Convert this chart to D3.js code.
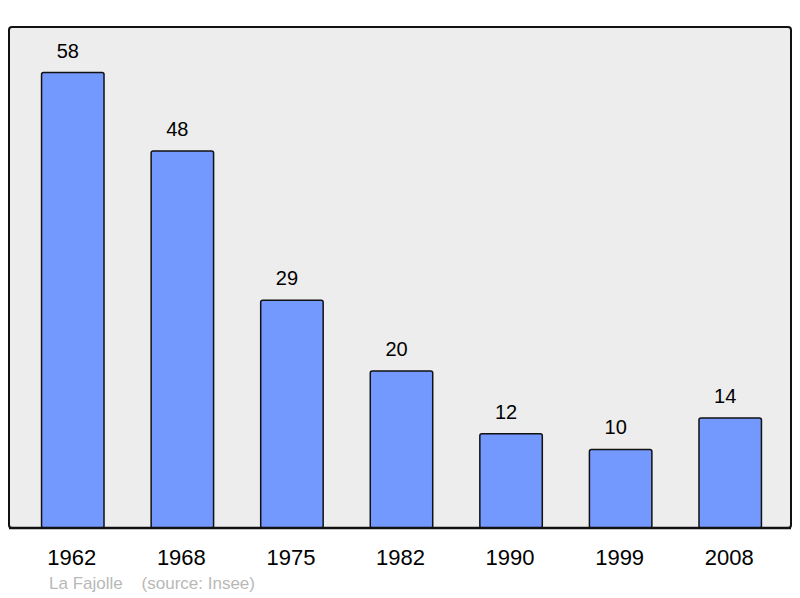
<!DOCTYPE html>
<html>
<head>
<meta charset="utf-8">
<script src="https://cdn.jsdelivr.net/npm/d3@7"></script>
<style>
  body { margin: 0; background: #fff; }
  text { font-family: "Liberation Sans", Arial, sans-serif; }
</style>
</head>
<body>
<div id="chart-area"></div>
<script>
const years = ["1962", "1968", "1975", "1982", "1990", "1999", "2008"];
const population = [58, 48, 29, 20, 12, 10, 14];

const width = 800, height = 598;
const svg = d3.select("#chart-area")
    .append("svg")
    .attr("width", width)
    .attr("height", height);

// plot frame
svg.append("rect")
    .attr("x", 9).attr("y", 27)
    .attr("width", 782).attr("height", 501)
    .attr("rx", 3)
    .attr("fill", "#ededed")
    .attr("stroke", "#111")
    .attr("stroke-width", 2);

const x = d3.scaleBand()
    .domain(years)
    .range([18, 785])
    .paddingInner(0.43)
    .paddingOuter(0.215);

const y = d3.scaleLinear()
    .domain([0, 63.8])
    .range([528, 27]);

svg.selectAll("rect.bar")
    .data(population)
    .join("rect")
    .attr("class", "bar")
    .attr("x", (d, i) => x(years[i]))
    .attr("y", d => y(d))
    .attr("width", x.bandwidth())
    .attr("height", d => y(0) - y(d))
    .attr("rx", 2)
    .attr("fill", "#7399ff")
    .attr("stroke", "#111")
    .attr("stroke-width", 1.5);

svg.selectAll("text.val")
    .data(population)
    .join("text")
    .attr("class", "val")
    .attr("x", (d, i) => x(years[i]) + x.bandwidth() / 2 - 5)
    .attr("y", d => y(d) - 15)
    .attr("text-anchor", "middle")
    .attr("font-size", 20)
    .attr("fill", "#000")
    .text(d => d);

// bottom line a little heavier
svg.append("line")
    .attr("x1", 9).attr("x2", 791)
    .attr("y1", 528).attr("y2", 528)
    .attr("stroke", "#111")
    .attr("stroke-width", 2.5);

svg.selectAll("text.year")
    .data(years)
    .join("text")
    .attr("class", "year")
    .attr("x", d => x(d) + x.bandwidth() / 2 - 1)
    .attr("y", 565)
    .attr("text-anchor", "middle")
    .attr("font-size", 22)
    .attr("fill", "#000")
    .text(d => d);

svg.append("text")
    .attr("x", 49).attr("y", 589)
    .attr("font-size", 17)
    .attr("fill", "#b8b8b8")
    .attr("xml:space", "preserve")
    .text("La Fajolle    (source: Insee)");
</script>
</body>
</html>
